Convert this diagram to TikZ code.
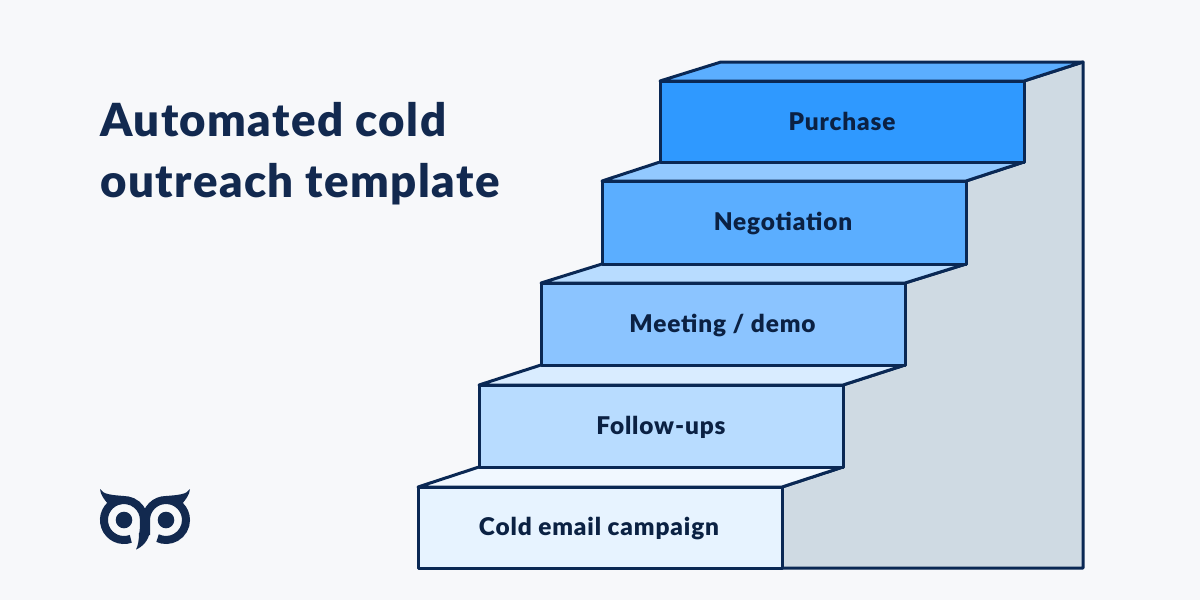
\documentclass[tikz,border=0pt]{standalone}
\usepackage{fontspec}
\setmainfont{Lato}[BoldFont={Lato Black}]
\newfontfamily\stepfont{Lato Black}[LetterSpace=3.5]
\newfontfamily\titlefont{Lato Black}[LetterSpace=3.2]
\definecolor{bg}{HTML}{F7F8FA}
\definecolor{ink}{HTML}{0A2854}
\definecolor{title}{HTML}{12294F}
\definecolor{sidegray}{HTML}{CFDAE3}
\definecolor{labelink}{HTML}{0B2143}
\definecolor{stepa}{RGB}{47,153,255}
\definecolor{stepb}{RGB}{91,174,255}
\definecolor{stepc}{RGB}{139,196,255}
\definecolor{stepd}{RGB}{184,220,255}
\definecolor{stepe}{RGB}{231,243,255}
\definecolor{topb}{RGB}{146,201,255}
\definecolor{topd}{RGB}{217,236,255}
\definecolor{tope}{RGB}{241,248,255}
\tikzset{
  stepline/.style={draw=ink,line width=3pt,line join=round},
  stepbox/.style={stepline,minimum width=364pt,inner sep=0pt,outer sep=0pt,anchor=north west},
  steplabel/.style={font=\fontsize{24.4}{28}\selectfont\stepfont,text=labelink,inner sep=0pt,anchor=base},
  titletext/.style={font=\fontsize{45.6}{61}\selectfont\titlefont,text=title,inner sep=0pt,anchor=base west,align=left},
  logostroke/.style={draw=title,line width=8pt}
}
\begin{document}
\begin{tikzpicture}[x=1pt,y=-1pt]
\useasboundingbox (0,0) rectangle (1200,600);
\fill[bg] (0,0) rectangle (1200,600);
% side wall
\filldraw[fill=sidegray,stepline] (1083,62) -- (1083,568) -- (782,568) -- (782,487) -- (843,467) -- (843,385) -- (905,365) -- (905,283) -- (966,264) -- (966,181) -- (1024,162) -- (1024,81) -- cycle;
% tops
\filldraw[fill=stepb,stepline] (660,81) -- (721,62) -- (1083,62) -- (1024,81) -- cycle;
\filldraw[fill=topb,stepline] (602,181) -- (660,162) -- (1024,162) -- (966,181) -- cycle;
\filldraw[fill=stepd,stepline] (541,283) -- (602,264) -- (966,264) -- (905,283) -- cycle;
\filldraw[fill=topd,stepline] (479,385) -- (541,365) -- (905,365) -- (843,385) -- cycle;
\filldraw[fill=tope,stepline] (418,487) -- (479,467) -- (843,467) -- (782,487) -- cycle;
% fronts
\node[stepbox,fill=stepa,minimum height=81pt] (purchase) at (660,81) {};
\node[stepbox,fill=stepb,minimum height=83pt] (negotiation) at (602,181) {};
\node[stepbox,fill=stepc,minimum height=82pt] (meeting) at (541,283) {};
\node[stepbox,fill=stepd,minimum height=82pt] (followups) at (479,385) {};
\node[stepbox,fill=stepe,minimum height=81pt] (cold) at (418,487) {};
\node[steplabel] (l1) at (842,130) {Purchase};
\node[steplabel] (l2) at (783,230) {Negotiation};
\node[steplabel] (l3) at (722.5,332) {Meeting / demo};
\node[steplabel] (l4) at (661,434) {Follow-ups};
\node[steplabel] (l5) at (599,535) {Cold email campaign};
% title
\node[titletext] (ttl1) at (100,136) {Automated cold};
\node[titletext] (ttl2) at (100,197) {outreach template};
% logo
\fill[title] (124,520) circle (8.3);
\fill[title] (166,520) circle (8.3);
\draw[logostroke] (130.8,538.8) arc[start angle=70,end angle=360,radius=20] -- (144,522) .. controls (144,528) and (143.6,532) .. (143,535);
\draw[logostroke] (146,535) -- (146,520) arc[start angle=180,end angle=475,radius=20];
\fill[title] (139,533) .. controls (139,540) and (138,546) .. (136,549.5) .. controls (142,547) and (149,541) .. (150,530) -- cycle;
\fill[title] (100,489) .. controls (103,494.5) and (112,495) .. (124,496) -- (108,504) .. controls (104,499) and (100.5,495) .. (100,489) -- cycle;
\fill[title] (190,489) .. controls (187,494.5) and (178,495) .. (166,496) -- (182,504) .. controls (186,499) and (189.5,495) .. (190,489) -- cycle;
\end{tikzpicture}
\end{document}
